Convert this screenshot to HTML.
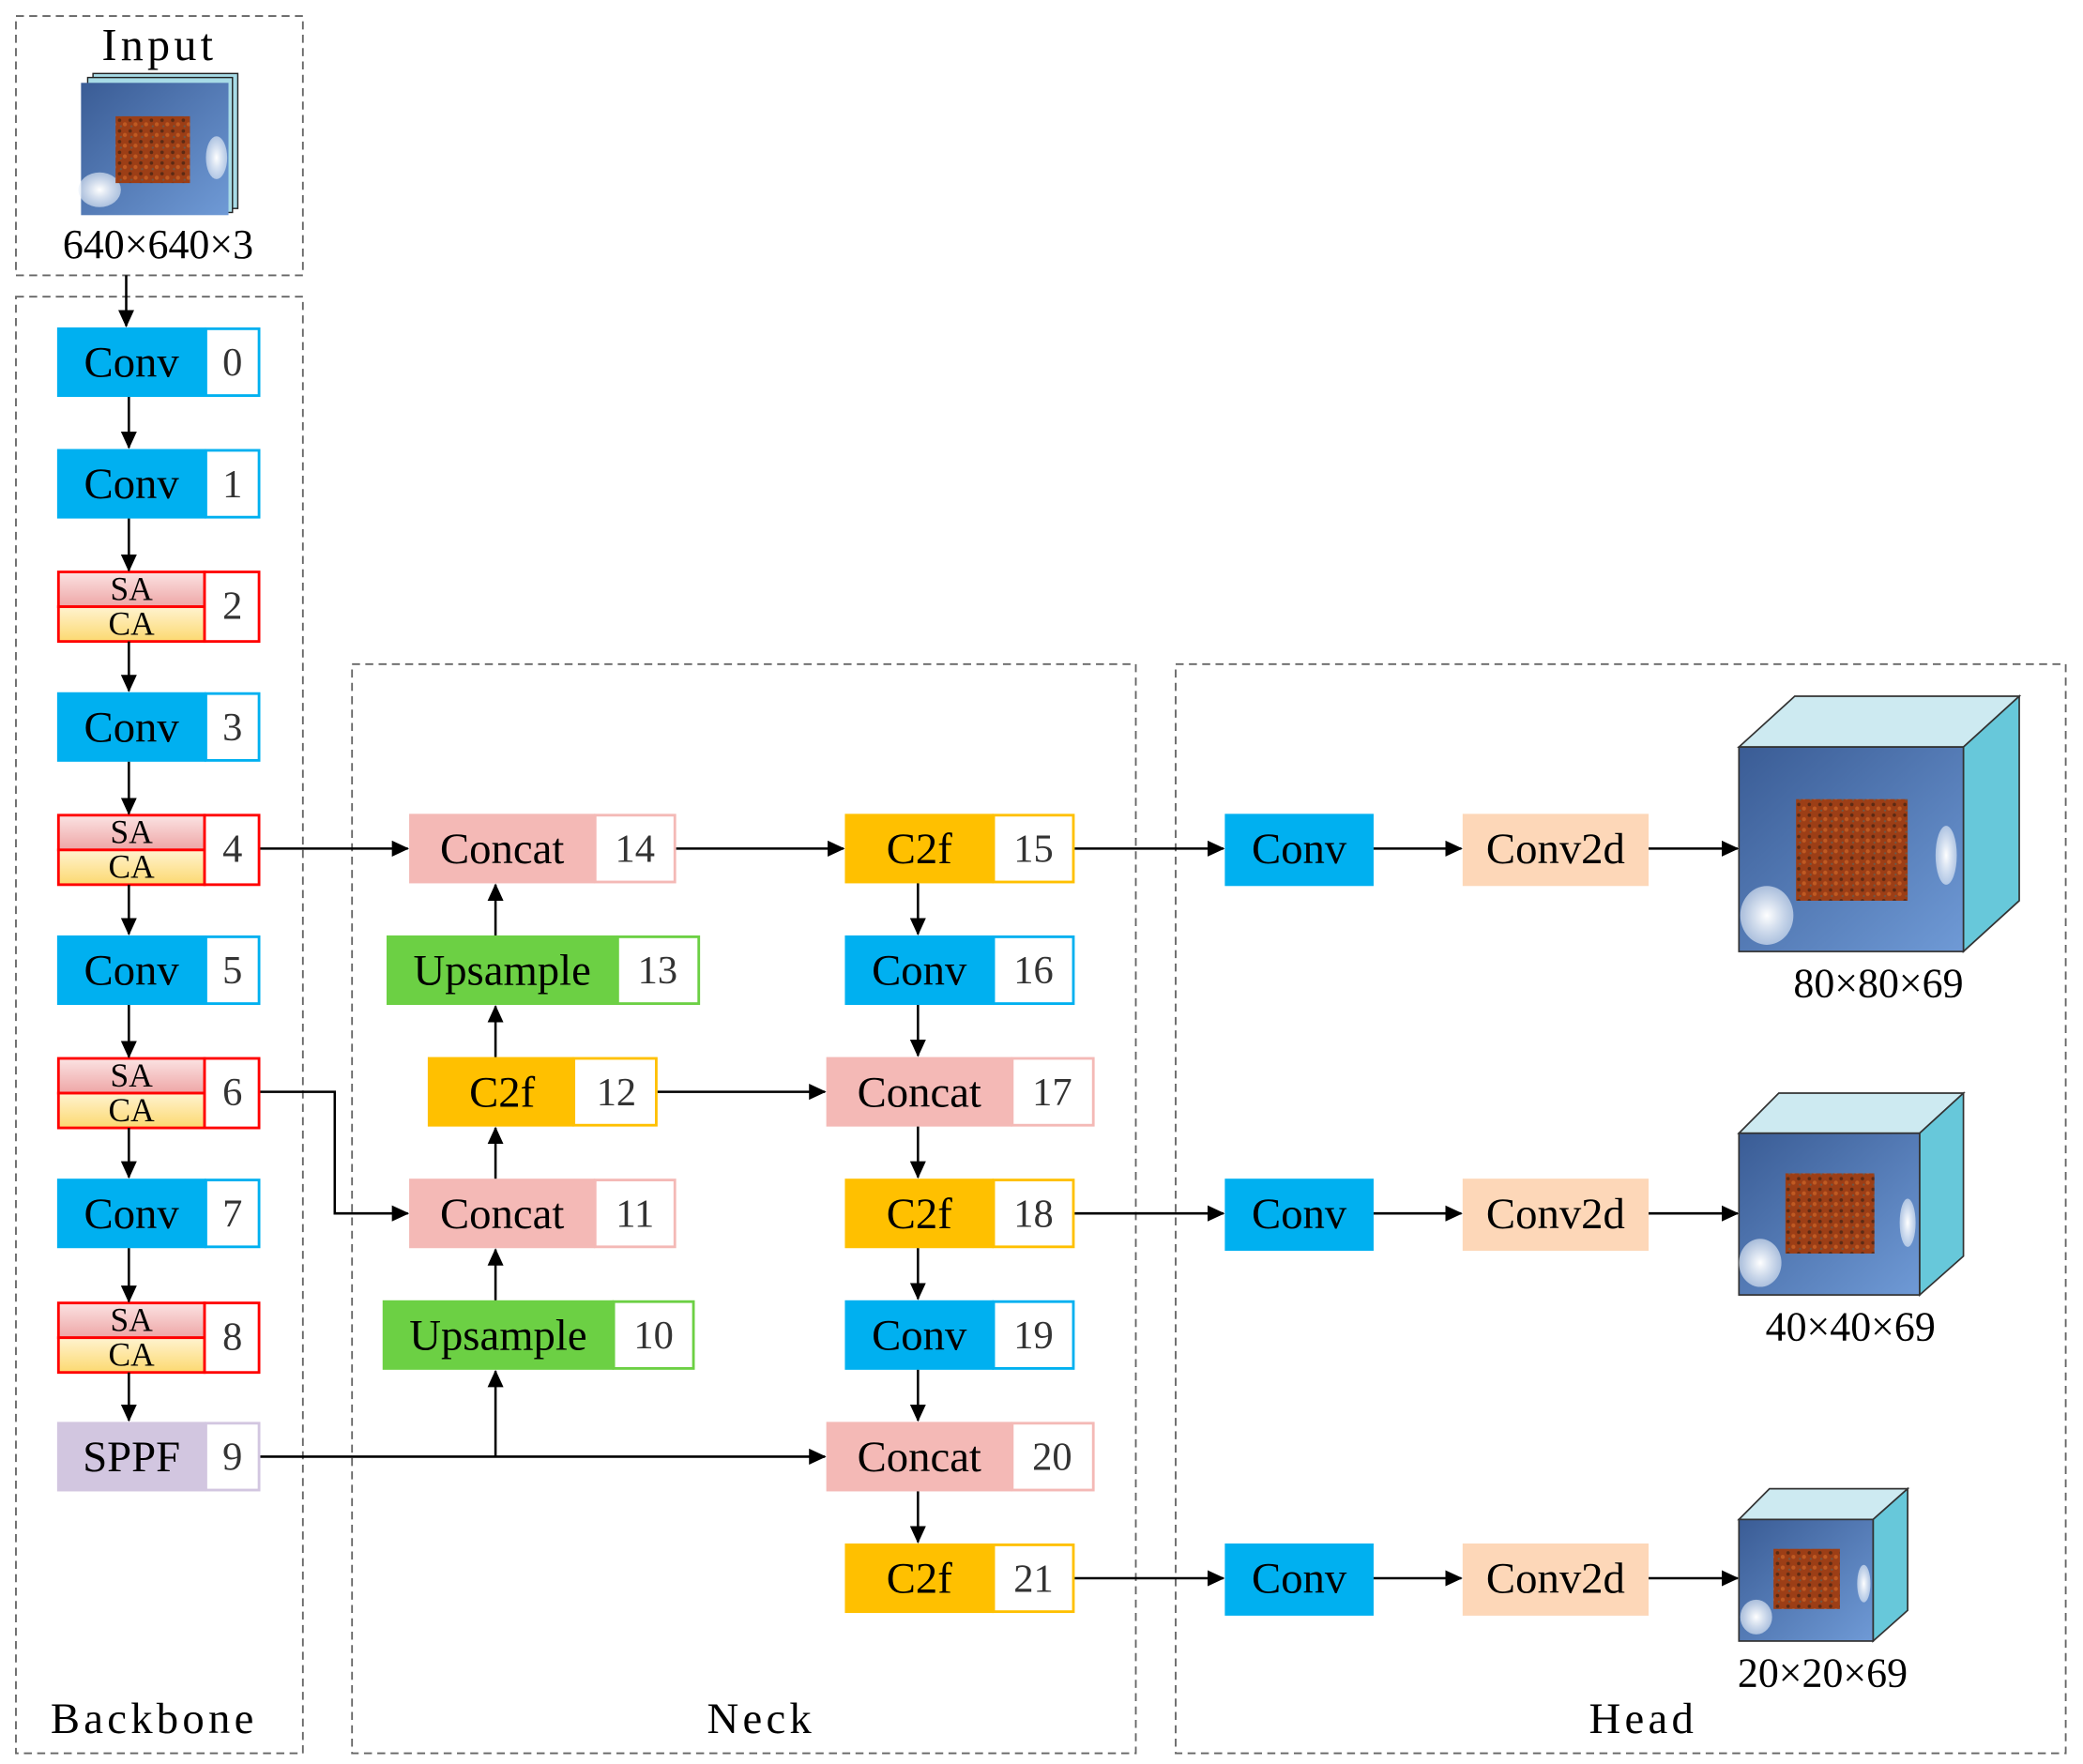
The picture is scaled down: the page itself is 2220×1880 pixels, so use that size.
<!DOCTYPE html>
<html><head><meta charset="utf-8"><style>
html,body{margin:0;padding:0;background:#fff;}
svg{display:block;}
text{font-family:"Liberation Serif",serif;}
</style></head><body>
<svg width="2220" height="1880" viewBox="0 0 1568 1320" preserveAspectRatio="none" xmlns="http://www.w3.org/2000/svg">
<defs>
<marker id="ar" markerWidth="13" markerHeight="12" refX="12" refY="6" orient="auto" markerUnits="userSpaceOnUse"><path d="M0,0 L13,6 L0,12 z" fill="#000"/></marker>
<linearGradient id="sa" x1="0" y1="0" x2="0" y2="1"><stop offset="0" stop-color="#fbe3e3"/><stop offset="1" stop-color="#eea6a6"/></linearGradient>
<linearGradient id="ca" x1="0" y1="0" x2="0" y2="1"><stop offset="0" stop-color="#fff3d0"/><stop offset="1" stop-color="#fcd970"/></linearGradient>
<linearGradient id="sky" x1="0" y1="0" x2="1" y2="1"><stop offset="0" stop-color="#3a5c95"/><stop offset="1" stop-color="#6f9ad6"/></linearGradient>
<radialGradient id="cl"><stop offset="0" stop-color="#fff"/><stop offset="1" stop-color="#e6eef8" stop-opacity="0.6"/></radialGradient>
<pattern id="rust" width="8" height="8" patternUnits="userSpaceOnUse"><rect width="8" height="8" fill="#9c3e16"/><circle cx="2" cy="2" r="1.3" fill="#5b2a14"/><circle cx="6" cy="5" r="1.5" fill="#c05a22"/><circle cx="3" cy="6.5" r="0.8" fill="#6b5a4a"/></pattern>
</defs>
<g fill="none" stroke="#666" stroke-width="1.3" stroke-dasharray="6,4">
<rect x="12" y="12" width="216" height="194"/>
<rect x="12" y="222" width="216" height="1090"/>
<rect x="265" y="497" width="590" height="815"/>
<rect x="885" y="497" width="670" height="815"/>
</g>
<g fill="#000" text-anchor="middle">
<text x="120" y="45" font-size="34" letter-spacing="3">Input</text>
<text x="119" y="193" font-size="31">640×640×3</text>
<text x="116" y="1297" font-size="33" letter-spacing="3">Backbone</text>
<text x="573" y="1297" font-size="33" letter-spacing="3">Neck</text>
<text x="1237" y="1297" font-size="33" letter-spacing="3">Head</text>
<text x="1414" y="746" font-size="31">80×80×69</text>
<text x="1393" y="1003" font-size="31">40×40×69</text>
<text x="1372" y="1262" font-size="31">20×20×69</text>
</g>
<rect x="70" y="55" width="109" height="101" fill="#a7dbe6" stroke="#222" stroke-width="1"/>
<rect x="66" y="58" width="109" height="101" fill="#a7dbe6" stroke="#222" stroke-width="1"/>
<rect x="61" y="62" width="111" height="99" fill="url(#sky)"/>
<ellipse cx="75" cy="142" rx="16" ry="13" fill="url(#cl)"/>
<ellipse cx="163" cy="118" rx="8" ry="16" fill="url(#cl)"/>
<rect x="87" y="87" width="56" height="50" fill="url(#rust)"/>
<g stroke="#333" stroke-width="1.2">
<polygon points="1309,559 1351,521 1520,521 1478,559" fill="#cdeaf1"/>
<polygon points="1478,559 1520,521 1520,674 1478,712" fill="#67c8da"/>
<rect x="1309" y="559" width="169" height="153" fill="url(#sky)"/>
<polygon points="1309,848 1339,818 1478,818 1445,848" fill="#cdeaf1"/>
<polygon points="1445,848 1478,818 1478,940 1445,969" fill="#67c8da"/>
<rect x="1309" y="848" width="136" height="121" fill="url(#sky)"/>
<polygon points="1309,1137 1332,1114 1436,1114 1410,1137" fill="#cdeaf1"/>
<polygon points="1410,1137 1436,1114 1436,1205 1410,1228" fill="#67c8da"/>
<rect x="1309" y="1137" width="101" height="91" fill="url(#sky)"/>
</g>
<ellipse cx="1330" cy="685" rx="20" ry="22" fill="url(#cl)"/>
<ellipse cx="1465" cy="640" rx="8" ry="22" fill="url(#cl)"/>
<rect x="1352" y="598" width="84" height="76" fill="url(#rust)"/>
<ellipse cx="1325" cy="945" rx="16" ry="18" fill="url(#cl)"/>
<ellipse cx="1436" cy="915" rx="6" ry="18" fill="url(#cl)"/>
<rect x="1344" y="878" width="67" height="60" fill="url(#rust)"/>
<ellipse cx="1322" cy="1210" rx="12" ry="13" fill="url(#cl)"/>
<ellipse cx="1403" cy="1185" rx="5" ry="14" fill="url(#cl)"/>
<rect x="1335" y="1159" width="50" height="45" fill="url(#rust)"/>

<g font-size="33" text-anchor="middle">
<g>
<rect x="43" y="245" width="112" height="52" fill="#00b0f0"/><rect x="155" y="246" width="40" height="50" fill="#fff" stroke="#00b0f0" stroke-width="2"/><text x="99" y="282">Conv</text><text x="175" y="281" fill="#333" font-size="30">0</text>
<rect x="43" y="336" width="112" height="52" fill="#00b0f0"/><rect x="155" y="337" width="40" height="50" fill="#fff" stroke="#00b0f0" stroke-width="2"/><text x="99" y="373">Conv</text><text x="175" y="372" fill="#333" font-size="30">1</text>
<rect x="43" y="518" width="112" height="52" fill="#00b0f0"/><rect x="155" y="519" width="40" height="50" fill="#fff" stroke="#00b0f0" stroke-width="2"/><text x="99" y="555">Conv</text><text x="175" y="554" fill="#333" font-size="30">3</text>
<rect x="43" y="700" width="112" height="52" fill="#00b0f0"/><rect x="155" y="701" width="40" height="50" fill="#fff" stroke="#00b0f0" stroke-width="2"/><text x="99" y="737">Conv</text><text x="175" y="736" fill="#333" font-size="30">5</text>
<rect x="43" y="882" width="112" height="52" fill="#00b0f0"/><rect x="155" y="883" width="40" height="50" fill="#fff" stroke="#00b0f0" stroke-width="2"/><text x="99" y="919">Conv</text><text x="175" y="918" fill="#333" font-size="30">7</text>
<rect x="43" y="1064" width="112" height="52" fill="#d2c6e0"/><rect x="155" y="1065" width="40" height="50" fill="#fff" stroke="#d2c6e0" stroke-width="2"/><text x="99" y="1101">SPPF</text><text x="175" y="1100" fill="#333" font-size="30">9</text>
</g>
<g font-size="25">
<rect x="44" y="428" width="110" height="26" fill="url(#sa)" stroke="#f00" stroke-width="2"/><rect x="44" y="454" width="110" height="26" fill="url(#ca)" stroke="#f00" stroke-width="2"/><rect x="154" y="428" width="41" height="52" fill="#fff" stroke="#f00" stroke-width="2"/><text x="99" y="449">SA</text><text x="99" y="475">CA</text><text x="175" y="463" fill="#333" font-size="30">2</text>
<rect x="44" y="610" width="110" height="26" fill="url(#sa)" stroke="#f00" stroke-width="2"/><rect x="44" y="636" width="110" height="26" fill="url(#ca)" stroke="#f00" stroke-width="2"/><rect x="154" y="610" width="41" height="52" fill="#fff" stroke="#f00" stroke-width="2"/><text x="99" y="631">SA</text><text x="99" y="657">CA</text><text x="175" y="645" fill="#333" font-size="30">4</text>
<rect x="44" y="792" width="110" height="26" fill="url(#sa)" stroke="#f00" stroke-width="2"/><rect x="44" y="818" width="110" height="26" fill="url(#ca)" stroke="#f00" stroke-width="2"/><rect x="154" y="792" width="41" height="52" fill="#fff" stroke="#f00" stroke-width="2"/><text x="99" y="813">SA</text><text x="99" y="839">CA</text><text x="175" y="827" fill="#333" font-size="30">6</text>
<rect x="44" y="975" width="110" height="26" fill="url(#sa)" stroke="#f00" stroke-width="2"/><rect x="44" y="1001" width="110" height="26" fill="url(#ca)" stroke="#f00" stroke-width="2"/><rect x="154" y="975" width="41" height="52" fill="#fff" stroke="#f00" stroke-width="2"/><text x="99" y="996">SA</text><text x="99" y="1022">CA</text><text x="175" y="1010" fill="#333" font-size="30">8</text>
</g>
<rect x="308" y="609" width="140" height="52" fill="#f4b9b6"/><rect x="448" y="610" width="60" height="50" fill="#fff" stroke="#f4b9b6" stroke-width="2"/><text x="378" y="646">Concat</text><text x="478" y="645" fill="#333" font-size="30">14</text>
<rect x="291" y="700" width="174" height="52" fill="#6cd044"/><rect x="465" y="701" width="61" height="50" fill="#fff" stroke="#6cd044" stroke-width="2"/><text x="378" y="737">Upsample</text><text x="495" y="736" fill="#333" font-size="30">13</text>
<rect x="322" y="791" width="110" height="52" fill="#ffc000"/><rect x="432" y="792" width="62" height="50" fill="#fff" stroke="#ffc000" stroke-width="2"/><text x="378" y="828">C2f</text><text x="464" y="827" fill="#333" font-size="30">12</text>
<rect x="308" y="882" width="140" height="52" fill="#f4b9b6"/><rect x="448" y="883" width="60" height="50" fill="#fff" stroke="#f4b9b6" stroke-width="2"/><text x="378" y="919">Concat</text><text x="478" y="918" fill="#333" font-size="30">11</text>
<rect x="288" y="973" width="174" height="52" fill="#6cd044"/><rect x="462" y="974" width="60" height="50" fill="#fff" stroke="#6cd044" stroke-width="2"/><text x="375" y="1010">Upsample</text><text x="492" y="1009" fill="#333" font-size="30">10</text>
<rect x="636" y="609" width="112" height="52" fill="#ffc000"/><rect x="748" y="610" width="60" height="50" fill="#fff" stroke="#ffc000" stroke-width="2"/><text x="692" y="646">C2f</text><text x="778" y="645" fill="#333" font-size="30">15</text>
<rect x="636" y="700" width="112" height="52" fill="#00b0f0"/><rect x="748" y="701" width="60" height="50" fill="#fff" stroke="#00b0f0" stroke-width="2"/><text x="692" y="737">Conv</text><text x="778" y="736" fill="#333" font-size="30">16</text>
<rect x="622" y="791" width="140" height="52" fill="#f4b9b6"/><rect x="762" y="792" width="61" height="50" fill="#fff" stroke="#f4b9b6" stroke-width="2"/><text x="692" y="828">Concat</text><text x="792" y="827" fill="#333" font-size="30">17</text>
<rect x="636" y="882" width="112" height="52" fill="#ffc000"/><rect x="748" y="883" width="60" height="50" fill="#fff" stroke="#ffc000" stroke-width="2"/><text x="692" y="919">C2f</text><text x="778" y="918" fill="#333" font-size="30">18</text>
<rect x="636" y="973" width="112" height="52" fill="#00b0f0"/><rect x="748" y="974" width="60" height="50" fill="#fff" stroke="#00b0f0" stroke-width="2"/><text x="692" y="1010">Conv</text><text x="778" y="1009" fill="#333" font-size="30">19</text>
<rect x="622" y="1064" width="140" height="52" fill="#f4b9b6"/><rect x="762" y="1065" width="61" height="50" fill="#fff" stroke="#f4b9b6" stroke-width="2"/><text x="692" y="1101">Concat</text><text x="792" y="1100" fill="#333" font-size="30">20</text>
<rect x="636" y="1155" width="112" height="52" fill="#ffc000"/><rect x="748" y="1156" width="60" height="50" fill="#fff" stroke="#ffc000" stroke-width="2"/><text x="692" y="1192">C2f</text><text x="778" y="1191" fill="#333" font-size="30">21</text>
<rect x="922" y="609" width="112" height="54" fill="#00b0f0"/><text x="978" y="646">Conv</text>
<rect x="1101" y="609" width="140" height="54" fill="#fdd7b8"/><text x="1171" y="646">Conv2d</text>
<rect x="922" y="882" width="112" height="54" fill="#00b0f0"/><text x="978" y="919">Conv</text>
<rect x="1101" y="882" width="140" height="54" fill="#fdd7b8"/><text x="1171" y="919">Conv2d</text>
<rect x="922" y="1155" width="112" height="54" fill="#00b0f0"/><text x="978" y="1192">Conv</text>
<rect x="1101" y="1155" width="140" height="54" fill="#fdd7b8"/><text x="1171" y="1192">Conv2d</text>
</g>
<g stroke="#000" stroke-width="1.8" fill="none" marker-end="url(#ar)">
<line x1="95" y1="206" x2="95" y2="244"/>
<line x1="97" y1="297" x2="97" y2="335"/>
<line x1="97" y1="388" x2="97" y2="427"/>
<line x1="97" y1="480" x2="97" y2="517"/>
<line x1="97" y1="570" x2="97" y2="609"/>
<line x1="97" y1="662" x2="97" y2="699"/>
<line x1="97" y1="752" x2="97" y2="791"/>
<line x1="97" y1="844" x2="97" y2="881"/>
<line x1="97" y1="934" x2="97" y2="974"/>
<line x1="97" y1="1027" x2="97" y2="1063"/>
<line x1="196" y1="635" x2="307" y2="635"/>
<line x1="509" y1="635" x2="635" y2="635"/>
<line x1="809" y1="635" x2="921" y2="635"/>
<line x1="1034" y1="635" x2="1100" y2="635"/>
<line x1="1241" y1="635" x2="1308" y2="635"/>
<polyline points="196,817 252,817 252,908 307,908"/>
<line x1="495" y1="817" x2="621" y2="817"/>
<line x1="809" y1="908" x2="921" y2="908"/>
<line x1="1034" y1="908" x2="1100" y2="908"/>
<line x1="1241" y1="908" x2="1308" y2="908"/>
<line x1="196" y1="1090" x2="621" y2="1090"/>
<line x1="373" y1="1090" x2="373" y2="1026"/>
<line x1="373" y1="973" x2="373" y2="935"/>
<line x1="373" y1="882" x2="373" y2="844"/>
<line x1="373" y1="791" x2="373" y2="753"/>
<line x1="373" y1="700" x2="373" y2="662"/>
<line x1="691" y1="661" x2="691" y2="699"/>
<line x1="691" y1="752" x2="691" y2="790"/>
<line x1="691" y1="843" x2="691" y2="881"/>
<line x1="691" y1="934" x2="691" y2="972"/>
<line x1="691" y1="1025" x2="691" y2="1063"/>
<line x1="691" y1="1116" x2="691" y2="1154"/>
<line x1="809" y1="1181" x2="921" y2="1181"/>
<line x1="1034" y1="1181" x2="1100" y2="1181"/>
<line x1="1241" y1="1181" x2="1308" y2="1181"/>
</g>
</svg>
</body></html>
